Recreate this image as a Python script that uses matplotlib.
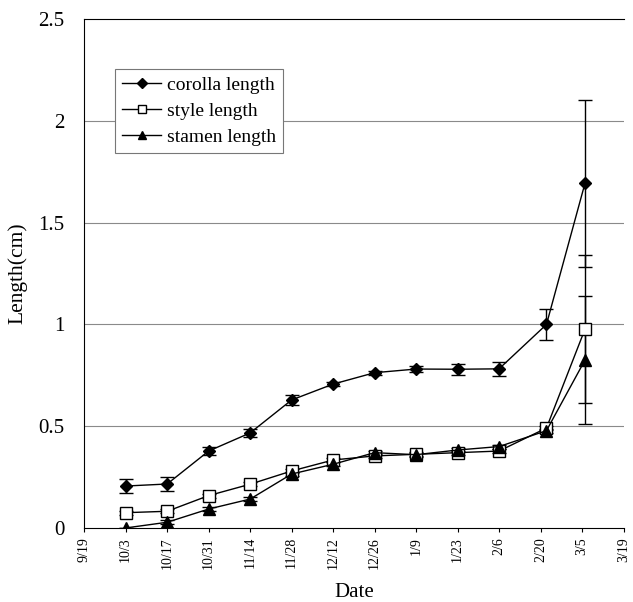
import matplotlib
matplotlib.use('Agg')
import matplotlib.pyplot as plt
from matplotlib.lines import Line2D
import numpy as np

plt.rcParams.update({
    'font.family': ['Liberation Serif', 'DejaVu Serif'],
    'font.size': 11,
})

# days since 9/19 (leap year season: 9/19 -> 3/19 = 182 days)
tick_labels = ['9/19', '10/3', '10/17', '10/31', '11/14', '11/28', '12/12',
               '12/26', '1/9', '1/23', '2/6', '2/20', '3/5', '3/19']
tick_days = np.arange(0, 183, 14)

days = [14, 28, 42, 56, 70, 84, 98, 112, 126, 140, 156, 169]

corolla = [0.206, 0.216, 0.378, 0.467, 0.629, 0.707, 0.763, 0.781, 0.780, 0.782, 1.00, 1.694]
corolla_err = [0.035, 0.035, 0.02, 0.02, 0.025, 0.01, 0.01, 0.015, 0.027, 0.033, 0.074, 0.41]

style = [0.075, 0.082, 0.159, 0.215, 0.280, 0.334, 0.354, 0.362, 0.370, 0.378, 0.491, 0.977]
style_err = [0.01, 0.01, 0.01, 0.01, 0.01, 0.01, 0.01, 0.01, 0.01, 0.01, 0.01, 0.365]

stamen = [0.0, 0.028, 0.093, 0.142, 0.265, 0.313, 0.370, 0.360, 0.383, 0.400, 0.478, 0.825]
stamen_err = [0.0, 0.01, 0.01, 0.01, 0.01, 0.01, 0.01, 0.01, 0.01, 0.01, 0.01, 0.315]

fig = plt.figure(figsize=(6.33, 6.02), dpi=100)
ax = fig.add_axes([0.133, 0.123, 0.852, 0.845])

for y in [0.5, 1.0, 1.5, 2.0]:
    ax.axhline(y, color='#8a8a8a', linewidth=0.8, zorder=0)

ax.errorbar(days, corolla, yerr=corolla_err, color='black', marker='D', markersize=6,
            linewidth=1, elinewidth=1, capsize=5, capthick=1)
ax.errorbar(days, style, yerr=style_err, color='black', marker='s', markersize=8,
            markerfacecolor='white', linewidth=1, elinewidth=1, capsize=5, capthick=1)
ax.errorbar(days, stamen, yerr=stamen_err, color='black', marker='^', markersize=8,
            linewidth=1, elinewidth=1, capsize=5, capthick=1)

ax.set_xlim(0, 182)
ax.set_ylim(0, 2.5)
ax.spines['right'].set_visible(False)
ax.set_xticks(tick_days)
ax.set_xticklabels(tick_labels, rotation=90, fontsize=10)
ax.set_yticks([0, 0.5, 1, 1.5, 2, 2.5])
ax.set_yticklabels(['0', '0.5', '1', '1.5', '2', '2.5'], fontsize=15)
ax.tick_params(axis='both', direction='out', length=3, width=0.8)
ax.tick_params(axis='y', length=0, pad=14)
ax.set_xlabel('Date', fontsize=15, labelpad=10)
ax.set_ylabel('Length(cm)', fontsize=15.5, labelpad=8)

handles = [
    Line2D([], [], color='black', marker='D', markersize=5, linewidth=1),
    Line2D([], [], color='black', marker='s', markersize=6, markerfacecolor='white', linewidth=1),
    Line2D([], [], color='black', marker='^', markersize=6, linewidth=1),
]
leg = ax.legend(handles, ['corolla length', 'style length', 'stamen length'],
                loc='upper left', bbox_to_anchor=(0.058, 0.902), borderaxespad=0,
                fancybox=False, framealpha=1, edgecolor='#777777', fontsize=14,
                handlelength=2.0, handletextpad=0.3, labelspacing=0.45,
                borderpad=0.35)
leg.get_frame().set_linewidth(0.8)

fig.savefig('out.png', dpi=100)
